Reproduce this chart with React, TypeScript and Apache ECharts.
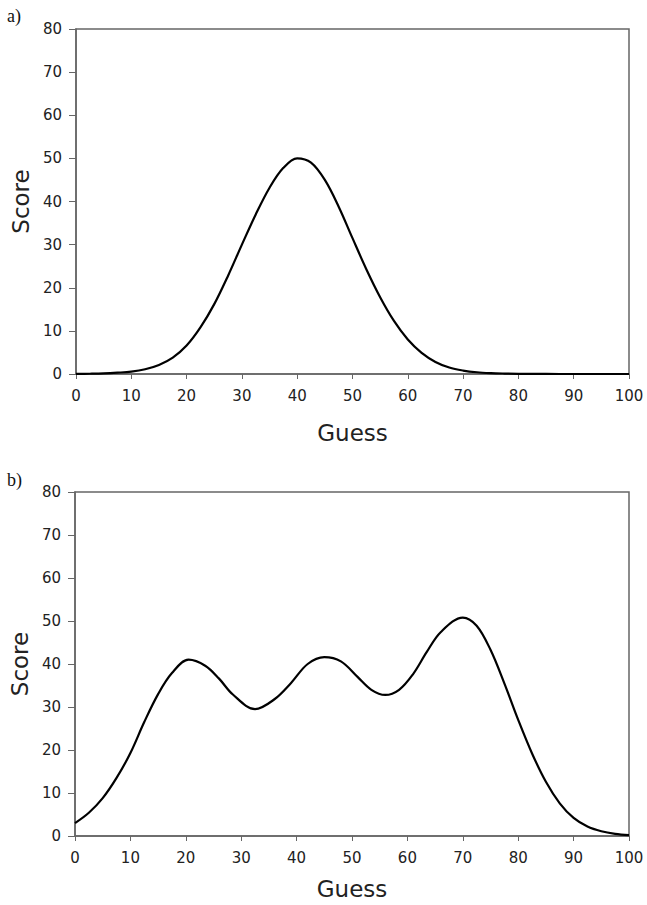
import React, { useEffect, useRef } from "react";
import * as echarts from "echarts";

const guessA = [0, 2.5, 5, 7.5, 10, 12.5, 15, 17.5, 20, 22.5, 25, 27.5, 30, 32.5, 35, 37.5, 40, 42.5, 45, 47.5, 50, 52.5, 55, 57.5, 60, 62.5, 65, 67.5, 70, 72.5, 75, 77.5, 80, 85, 90, 95, 100];
const scoreA = [0.03, 0.06, 0.13, 0.3, 0.55, 1.1, 2.1, 3.8, 6.6, 10.8, 16.2, 22.8, 30, 37, 43.2, 47.8, 50, 49, 45, 38.8, 31.5, 24.3, 17.8, 12.3, 8, 4.9, 2.8, 1.5, 0.8, 0.4, 0.2, 0.1, 0.04, 0.01, 0, 0, 0];

const guessB = [0, 2.5, 5, 7.5, 10, 12.5, 15, 17.5, 20.5, 23.5, 26, 28.5, 32.5, 36, 39, 42, 45, 48, 51, 53.5, 56, 58.5, 61, 63.5, 66, 70, 72.5, 75, 77.5, 80, 82.5, 85, 87.5, 90, 92.5, 95, 97.5, 100];
const scoreB = [3, 5.4, 8.8, 13.5, 19.3, 26.5, 33, 37.9, 41, 39.6, 36.6, 32.9, 29.5, 31.8, 35.6, 40, 41.6, 40.6, 37, 34, 32.8, 34, 37.6, 42.8, 47.4, 50.8, 48.9, 43.3, 35.5, 27, 19.2, 12.6, 7.6, 4.2, 2.2, 1.1, 0.5, 0.2];

const xTicks = ["0", "10", "20", "30", "40", "50", "60", "70", "80", "90", "100"];
const yTicks = ["0", "10", "20", "30", "40", "50", "60", "70", "80"];
const panelLabels = ["a)", "b)"];
const xTitle = "Guess";
const yTitle = "Score";

export default function App() {
  const ref = useRef<HTMLDivElement>(null);
  useEffect(() => {
    if (!ref.current) return;
    const chart = echarts.init(ref.current, null, { renderer: "svg" });
    const axisColor = "#666";
    const font = "DejaVu Sans, Verdana, sans-serif";
    const mkX = (gi: number) => ({
      type: "value",
      gridIndex: gi,
      min: 0,
      max: 100,
      interval: 10,
      name: xTitle,
      nameLocation: "middle",
      nameGap: gi === 0 ? 47 : 41,
      nameTextStyle: { fontFamily: font, fontSize: 23, color: "#222" },
      axisLine: { show: true, lineStyle: { color: axisColor, width: 1.5 } },
      axisTick: { show: true, inside: false, length: 5, lineStyle: { color: axisColor } },
      axisLabel: {
        margin: 14,
        fontFamily: font,
        fontSize: 15,
        color: "#222",
        formatter: (v: number) => xTicks[Math.round(v / 10)] ?? "",
      },
      splitLine: { show: false },
    });
    const mkY = (gi: number) => ({
      type: "value",
      gridIndex: gi,
      min: 0,
      max: 80,
      interval: 10,
      name: yTitle,
      nameLocation: "middle",
      nameGap: 42,
      nameTextStyle: { fontFamily: font, fontSize: 23, color: "#222" },
      axisLine: { show: true, lineStyle: { color: axisColor, width: 1.5 } },
      axisTick: { show: true, inside: false, length: 7, lineStyle: { color: axisColor } },
      axisLabel: {
        margin: 14,
        fontFamily: font,
        fontSize: 15,
        color: "#222",
        formatter: (v: number) => yTicks[Math.round(v / 10)] ?? "",
      },
      splitLine: { show: false },
    });
    chart.setOption({
      animation: false,
      backgroundColor: "#ffffff",
      grid: [
        { left: 76, top: 29, width: 553, height: 345, show: true, borderColor: axisColor, borderWidth: 1.5, backgroundColor: "transparent" },
        { left: 75, top: 492, width: 554, height: 344, show: true, borderColor: axisColor, borderWidth: 1.5, backgroundColor: "transparent" },
      ],
      xAxis: [mkX(0), mkX(1)],
      yAxis: [mkY(0), mkY(1)],
      graphic: [
        { type: "text", left: 7, top: 7, style: { text: panelLabels[0], font: "18px 'Liberation Serif', 'Times New Roman', serif", fill: "#111" } },
        { type: "text", left: 7, top: 471, style: { text: panelLabels[1], font: "18px 'Liberation Serif', 'Times New Roman', serif", fill: "#111" } },
      ],
      series: [
        {
          type: "line",
          xAxisIndex: 0,
          yAxisIndex: 0,
          data: guessA.map((g, i) => [g, scoreA[i]]),
          smooth: 0.35,
          showSymbol: false,
          lineStyle: { color: "#000", width: 2.2 },
        },
        {
          type: "line",
          xAxisIndex: 1,
          yAxisIndex: 1,
          data: guessB.map((g, i) => [g, scoreB[i]]),
          smooth: 0.35,
          showSymbol: false,
          lineStyle: { color: "#000", width: 2.2 },
        },
      ],
    });
    return () => chart.dispose();
  }, []);
  return <div ref={ref} style={{ position: "absolute", left: 0, top: 0, width: 647, height: 905 }} />;
}
